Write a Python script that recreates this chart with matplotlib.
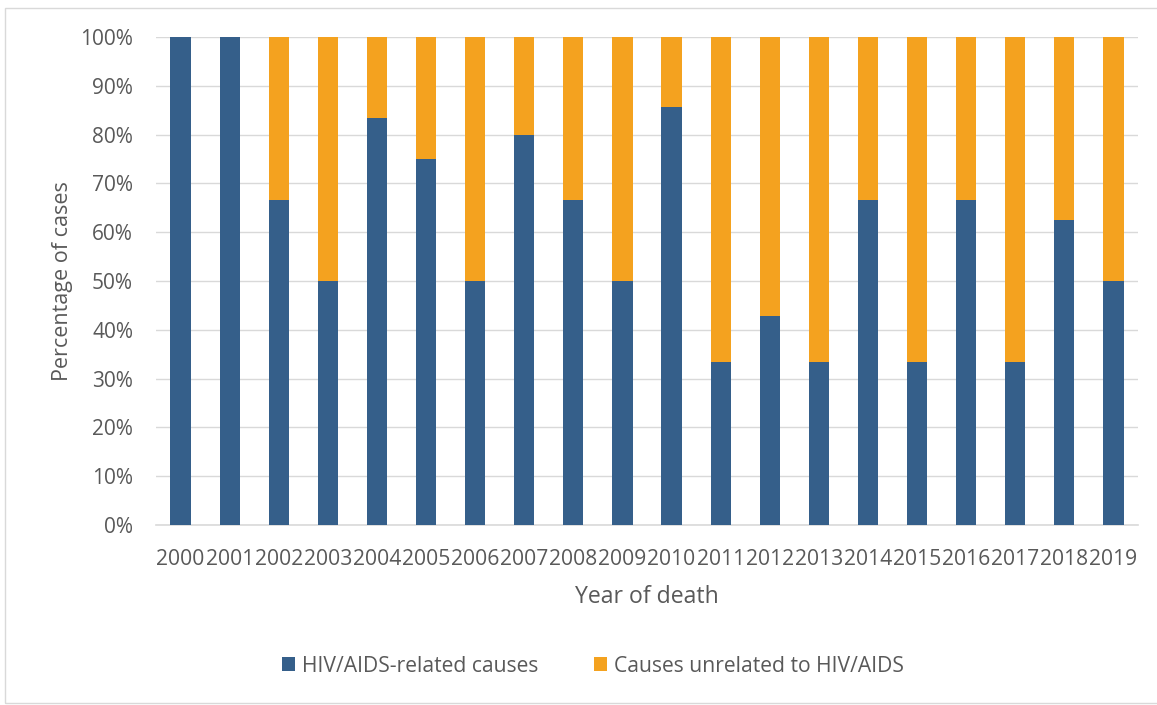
import matplotlib
matplotlib.use("Agg")
import matplotlib.pyplot as plt
from matplotlib.patches import Rectangle
from matplotlib.ticker import PercentFormatter

years = [str(y) for y in range(2000, 2020)]
hiv_related = [100, 100, 66.7, 50, 83.3, 75, 50, 80, 66.7, 50,
               85.7, 33.3, 42.9, 33.3, 66.7, 33.3, 66.7, 33.3, 62.5, 50]
unrelated = [100 - v for v in hiv_related]

blue = "#355F8A"
orange = "#F4A21F"
text_col = "#595959"

plt.rcParams['font.family'] = ['Open Sans', 'DejaVu Sans']

W, H = 1157, 705
fig = plt.figure(figsize=(W / 100, H / 100), dpi=100)
ax = fig.add_axes([156 / W, 1 - 525 / H, (1138 - 156) / W, (525 - 37) / H])

x = list(range(len(years)))
ax.bar(x, hiv_related, width=0.41, color=blue, label="HIV/AIDS-related causes", zorder=3)
ax.bar(x, unrelated, width=0.41, bottom=hiv_related, color=orange,
       label="Causes unrelated to HIV/AIDS", zorder=3)

ax.set_xlim(-0.5, len(years) - 0.5)
ax.set_ylim(0, 100)
ax.set_yticks(range(0, 101, 10))
ax.yaxis.set_major_formatter(PercentFormatter(decimals=0))
ax.set_xticks(x)
ax.set_xticklabels(years)
ax.grid(axis='y', color='#D9D9D9', linewidth=1, zorder=0)
for s in ['top', 'right', 'left']:
    ax.spines[s].set_visible(False)
ax.spines['bottom'].set_color('#D9D9D9')
ax.spines['bottom'].set_linewidth(1.2)
ax.tick_params(axis='both', length=0, colors=text_col)
ax.tick_params(axis='y', labelsize=15, pad=16.5)
ax.tick_params(axis='x', labelsize=15.2, pad=17)

ax.set_xlabel("Year of death", fontsize=16.6, color=text_col, labelpad=11)
ax.set_ylabel("Percentage of cases", fontsize=15.5, color=text_col, labelpad=5)

leg = fig.legend(loc='center', bbox_to_anchor=(593 / W, 1 - 666 / H), ncol=2,
                 frameon=False, fontsize=15.2, handlelength=0.62, handleheight=0.62,
                 handletextpad=0.33, columnspacing=2.65)
for t in leg.get_texts():
    t.set_color(text_col)

fig.patches.append(Rectangle((5 / W, 2 / H), (W + 10) / W, (H - 10) / H,
                             transform=fig.transFigure, fill=False,
                             edgecolor='#D9D9D9', linewidth=1))

fig.savefig("out.png", dpi=100, facecolor='white')
